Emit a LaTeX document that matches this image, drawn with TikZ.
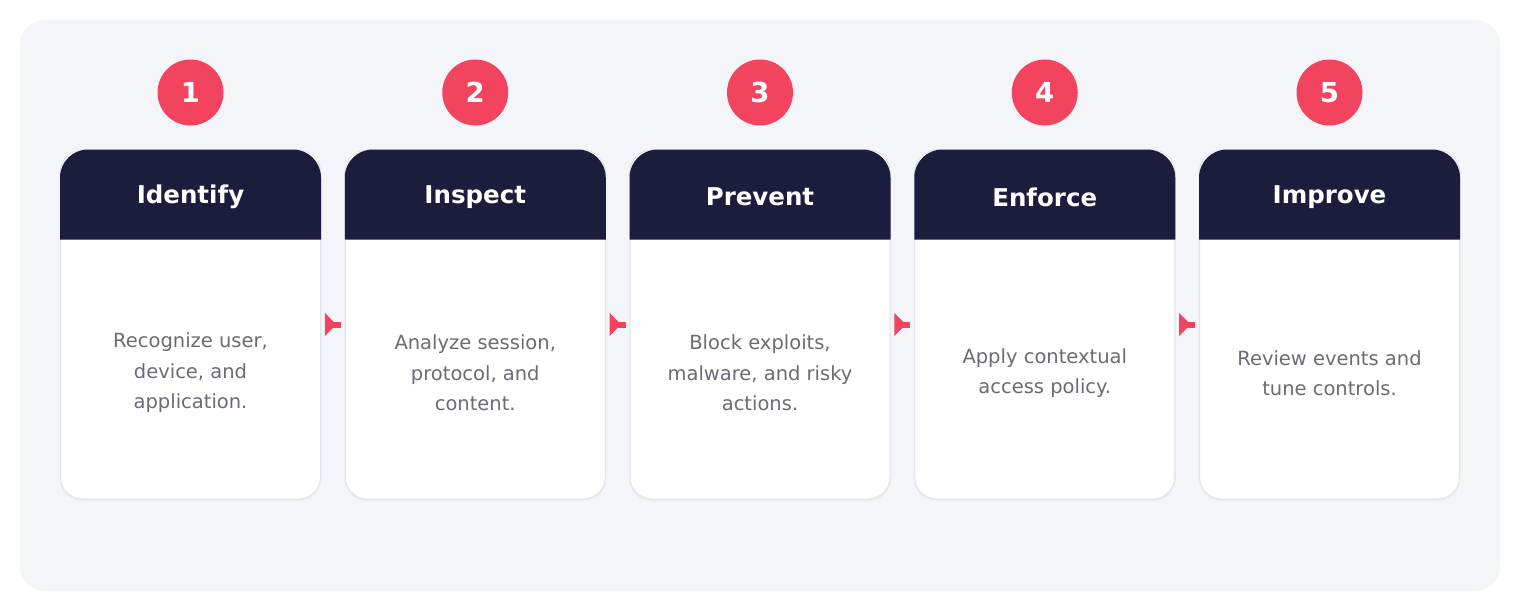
\documentclass[tikz,border=0pt]{standalone}
\usepackage{fontspec}
\setmainfont{DejaVu Sans}
\usetikzlibrary{calc}
\definecolor{panel}{HTML}{F4F5F9}
\definecolor{navy}{HTML}{1C1C3D}
\definecolor{accent}{HTML}{F2445F}
\definecolor{bodytext}{HTML}{6B6B78}
\definecolor{cardline}{HTML}{E2E4EA}
\begin{document}
\begin{tikzpicture}[x=1pt,y=-1pt,
  cardbody/.style={draw=cardline, line width=1pt, fill=white, rounded corners=22pt,
    minimum width=260pt, minimum height=349pt, inner sep=0pt},
  cardshadow/.style={fill=black, opacity=0.035, rounded corners=22pt,
    minimum width=262pt, minimum height=350pt, inner sep=0pt},
  headtxt/.style={text=white, font=\fontsize{24.5}{29}\selectfont\bfseries, inner sep=0pt},
  bodytxt/.style={text=bodytext, font=\fontsize{19.5}{30.5}\selectfont, align=center, inner sep=0pt},
  stepcircle/.style={circle, fill=accent, minimum size=66pt, inner sep=0pt,
    text=white, font=\fontsize{27.5}{30}\selectfont\bfseries},
  flowtip/.style={fill=accent}
]
\useasboundingbox (0,0) rectangle (1520,610);
\fill[white] (0,0) rectangle (1520,610);
\fill[panel, rounded corners=25pt] (20,20) rectangle (1500,591);

\foreach \n/\t/\b [count=\i from 0] in {
  1/Identify/{Recognize user,\\device, and\\application.},
  2/Inspect/{Analyze session,\\protocol, and\\content.},
  3/Prevent/{Block exploits,\\malware, and risky\\actions.},
  4/Enforce/{Apply contextual\\access policy.},
  5/Improve/{Review events and\\tune controls.}} {
  \pgfmathsetmacro{\cx}{190.5+\i*284.75}
  \node[cardshadow] (shadow\n) at (\cx,326) {};
  \node[cardbody] (body\n) at (\cx,324.5) {};
  \fill[navy] ([yshift=-90pt]body\n.north west)
     [rounded corners=28pt] -- (body\n.north west) -- (body\n.north east)
     [sharp corners] -- ([yshift=-90pt]body\n.north east) -- cycle;
  \node[headtxt] (head\n) at ([yshift=-47.5pt]body\n.north) {\t};
  \node[bodytxt] (text\n) at (\cx,373) {\b};
  \node[stepcircle] (num\n) at (\cx,92.5) {\n};
}

\foreach \a/\c in {1/2,2/3,3/4,4/5} {
  \coordinate (m\a) at ($(body\a.east)!0.5!(body\c.west)$);
  \fill[flowtip] ($(m\a)+(-8,-11.5)$) -- ($(m\a)+(3.5,0)$) -- ($(m\a)+(-8,11.5)$) -- cycle;
  \fill[flowtip] ($(m\a)+(0,-3)$) rectangle ($(m\a)+(8,3)$);
}
\end{tikzpicture}
\end{document}
